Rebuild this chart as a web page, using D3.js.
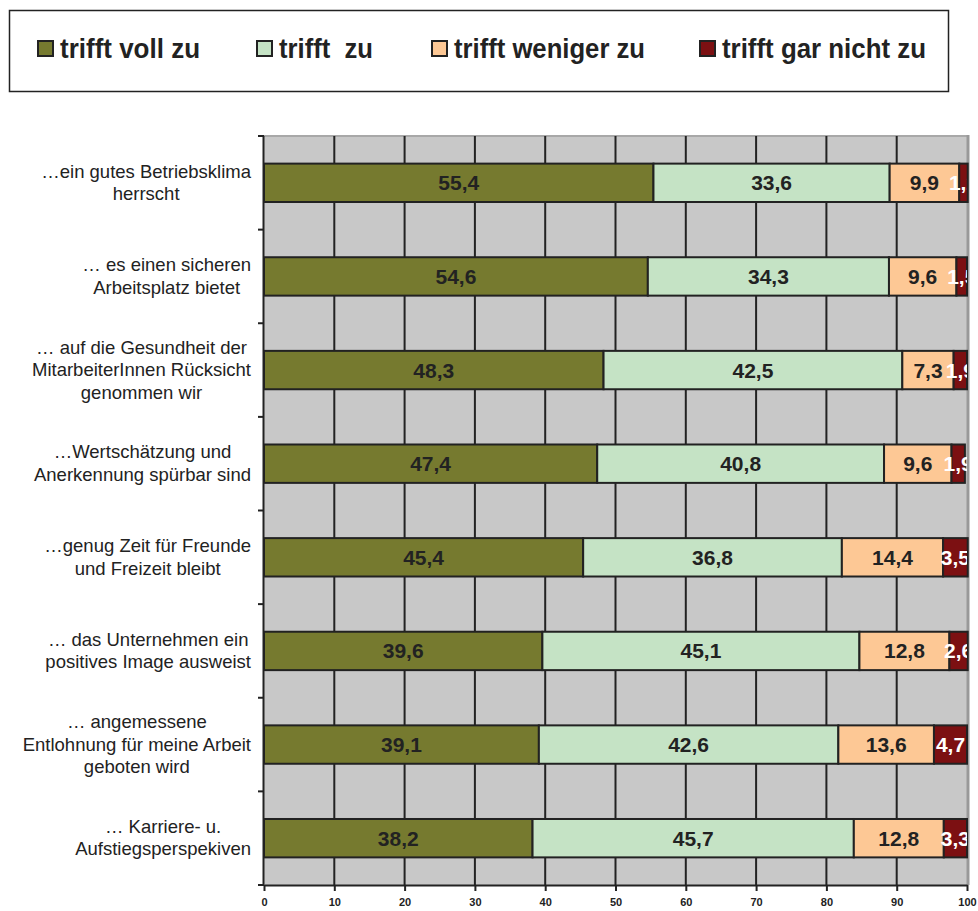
<!DOCTYPE html>
<html><head><meta charset="utf-8">
<script src="https://cdn.jsdelivr.net/npm/d3@7"></script>
<style>body{margin:0;background:#fff}svg{display:block}</style>
</head><body>
<svg id="c" width="978" height="911"></svg>
<script>
const categories = [
  ["…ein gutes Betriebsklima","herrscht"],
  ["… es einen sicheren","Arbeitsplatz bietet"],
  ["… auf die Gesundheit der","MitarbeiterInnen Rücksicht","genommen wir"],
  ["…Wertschätzung und","Anerkennung spürbar sind"],
  ["…genug Zeit für Freunde","und Freizeit bleibt"],
  ["… das Unternehmen ein","positives Image ausweist"],
  ["… angemessene","Entlohnung für meine Arbeit","geboten wird"],
  ["… Karriere- u.","Aufstiegsperspekiven"]
];
const seriesNames = ["trifft voll zu","trifft  zu","trifft weniger zu","trifft gar nicht zu"];
const vollZu    = [55.4,54.6,48.3,47.4,45.4,39.6,39.1,38.2];
const zu        = [33.6,34.3,42.5,40.8,36.8,45.1,42.6,45.7];
const weniger   = [9.9,9.6,7.3,9.6,14.4,12.8,13.6,12.8];
const garNicht  = [1.2,1.5,1.9,1.9,3.5,2.6,4.7,3.3];
const xTicks = [0,10,20,30,40,50,60,70,80,90,100];
const colors = ["#767a2f","#c5e3c5","#fdc895","#7c1012"];
const labelColors = ["#222","#222","#222","#fff"];

const svg = d3.select("#c");
const L = 264, R = 967, T = 136, B = 885;
const x = d3.scaleLinear().domain([0,100]).range([L,R]);
const y = d3.scaleBand().domain(d3.range(categories.length)).range([T,B]).padding(0);
const barH = y.bandwidth()*0.41;

// legend box
svg.append("rect").attr("x",9.5).attr("y",10.5).attr("width",939).attr("height",81)
  .attr("fill","#fff").attr("stroke","#222").attr("stroke-width",1.5);
const legX = [38, 257, 432, 700];
const legW = [140, 94, 191, 204];
seriesNames.forEach((n,i)=>{
  svg.append("rect").attr("x",legX[i]).attr("y",41).attr("width",15).attr("height",15)
    .attr("fill",colors[i]).attr("stroke","#222").attr("stroke-width",2);
  svg.append("text").attr("x",legX[i]+22).attr("y",58).text(n)
    .attr("font-family","'Liberation Sans',Arial,sans-serif")
    .attr("font-weight","bold").attr("font-size",27).attr("fill","#222")
    .attr("textLength",legW[i]).attr("lengthAdjust","spacingAndGlyphs")
    .attr("xml:space","preserve").style("white-space","pre");
});

// plot background
svg.append("rect").attr("x",L).attr("y",T).attr("width",R-L).attr("height",B-T).attr("fill","#c8c8c8");
// top & right border
svg.append("line").attr("x1",L).attr("x2",R).attr("y1",T).attr("y2",T).attr("stroke","#a8a8a8").attr("stroke-width",2);
svg.append("line").attr("x1",R+1).attr("x2",R+1).attr("y1",T-1).attr("y2",B).attr("stroke","#999").attr("stroke-width",3);

// vertical gridlines
svg.append("g").selectAll("line").data(xTicks.slice(1,-1)).join("line")
  .attr("x1",d=>x(d)).attr("x2",d=>x(d)).attr("y1",T).attr("y2",B)
  .attr("stroke","#222").attr("stroke-width",2);

// stacked bars
const series = [vollZu, zu, weniger, garNicht];
svg.append("clipPath").attr("id","cp").append("rect")
  .attr("x",L).attr("y",T).attr("width",R-L).attr("height",B-T);
const gBars = svg.append("g");
const gLab = svg.append("g").attr("clip-path","url(#cp)");
categories.forEach((c,ci)=>{
  let acc = 0;
  const yc = y(ci)+y.bandwidth()/2;
  series.forEach((s,si)=>{
    const v = s[ci];
    gBars.append("rect").attr("x",x(acc)).attr("y",yc-barH/2)
      .attr("width",x(acc+v)-x(acc)).attr("height",barH)
      .attr("fill",colors[si]).attr("stroke","#222").attr("stroke-width",2);
    gLab.append("text").attr("x",x(acc+v/2)).attr("y",yc+7.5)
      .attr("text-anchor","middle").attr("font-family","'Liberation Sans',Arial,sans-serif")
      .attr("font-weight","bold").attr("font-size",21).attr("fill",labelColors[si])
      .text(String(v).replace(".",","));
    acc += v;
  });
});

// y axis (left) with ticks at band boundaries
const yEdges = d3.range(categories.length+1).map(i=> i<categories.length ? y(i) : B);
svg.append("line").attr("x1",L-0.5).attr("x2",L-0.5).attr("y1",T).attr("y2",B).attr("stroke","#222").attr("stroke-width",2);
svg.append("g").selectAll("line").data(yEdges).join("line")
  .attr("x1",L-6).attr("x2",L).attr("y1",d=>d).attr("y2",d=>d).attr("stroke","#222").attr("stroke-width",2);

// category labels
const gCat = svg.append("g").attr("font-family","'Liberation Sans',Arial,sans-serif").attr("font-size",18.5).attr("fill","#222");
categories.forEach((lines,ci)=>{
  const yc = y(ci)+y.bandwidth()/2;
  const lh = 22.5;
  const t = gCat.append("text").attr("text-anchor","middle");
  lines.forEach((ln,li)=>{
    t.append("tspan").attr("y", yc + (li-(lines.length-1)/2)*lh + 6).text(ln);
  });
  let maxW = 0;
  t.selectAll("tspan").each(function(){ maxW = Math.max(maxW,this.getComputedTextLength()); });
  t.selectAll("tspan").attr("x", 251 - maxW/2);
});

// x axis
const xa = svg.append("g").attr("transform",`translate(0,${B})`)
  .call(d3.axisBottom(x).tickValues(xTicks).tickSize(6).tickSizeOuter(0).tickFormat(d3.format("d")));
xa.select(".domain").attr("stroke","#222").attr("stroke-width",2);
xa.selectAll(".tick line").attr("stroke","#222").attr("stroke-width",2);
xa.selectAll(".tick text").attr("font-family","'Liberation Sans',Arial,sans-serif")
  .attr("font-weight","bold").attr("font-size",11).attr("fill","#222").attr("dy","1.1em");
</script>
</body></html>
